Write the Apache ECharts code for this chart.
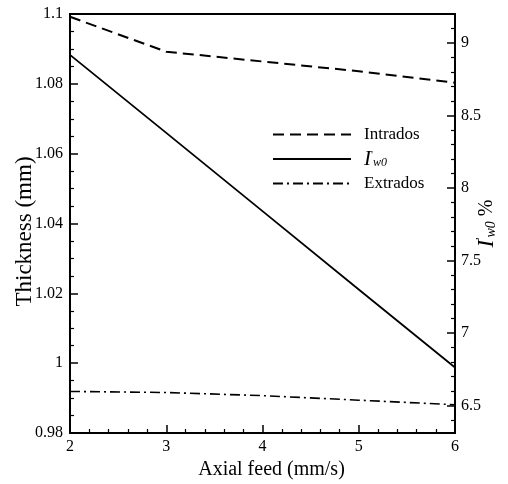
<!DOCTYPE html>
<html>
<head>
<meta charset="utf-8">
<script src="https://cdn.jsdelivr.net/npm/echarts@6/dist/echarts.min.js"></script>
<style>html,body{margin:0;padding:0;background:#fff}#c{width:508px;height:484px}</style>
</head>
<body>
<div id="c"></div>
<script>
var feed = [2, 3, 4, 5, 6];
var intrados = [1.0992, 1.0892, 1.0864, 1.0836, 1.0803];
var iw0 = [8.918, 8.38, 7.84, 7.30, 6.762];
var extrados = [0.9919, 0.9916, 0.9907, 0.9894, 0.9881];
var rightMajorTicks = [6.5, 7, 7.5, 8, 8.5, 9];
var rightMinorTicks = [6.4, 6.6, 6.7, 6.8, 6.9, 7.1, 7.2, 7.3, 7.4, 7.6, 7.7, 7.8, 7.9, 8.1, 8.2, 8.3, 8.4, 8.6, 8.7, 8.8, 8.9, 9.1];
var seriesNames = ['Intrados', 'Iw0', 'Extrados'];

function pairs(xs, ys) { return xs.map(function (x, i) { return [x, ys[i]]; }); }

var FF = '"Liberation Serif", "Times New Roman", serif';
var black = '#000';
var legRich = {
  i: { fontFamily: FF, fontStyle: 'italic', fontSize: 21, lineHeight: 19, color: black },
  p: { fontFamily: FF, fontSize: 11, lineHeight: 19, color: black, verticalAlign: 'top' },
  s: { fontFamily: FF, fontStyle: 'italic', fontSize: 12, lineHeight: 19, color: black, verticalAlign: 'bottom' }
};
var nameRich = {
  i: { fontFamily: FF, fontStyle: 'italic', fontSize: 23, color: black },
  p: { fontFamily: FF, fontSize: 12, color: black, verticalAlign: 'top' },
  s: { fontFamily: FF, fontStyle: 'italic', fontSize: 14, color: black, verticalAlign: 'bottom' },
  t: { fontFamily: FF, fontSize: 20, color: black }
};

var chart = echarts.init(document.getElementById('c'), null, { renderer: 'canvas' });
chart.setOption({
  animation: false,
  backgroundColor: '#fff',
  grid: { left: 70, top: 14, right: 53, bottom: 51, show: true, borderColor: black, borderWidth: 2, backgroundColor: 'transparent', outerBoundsMode: 'none', containLabel: false },
  legend: {
    orient: 'vertical', left: 272, top: 125, padding: 0,
    itemWidth: 78, itemHeight: 24, itemGap: 4.3,
    data: seriesNames,
    itemStyle: { color: 'rgba(0,0,0,0)', borderWidth: 0, opacity: 0 },
    textStyle: { fontFamily: FF, fontSize: 17, lineHeight: 19, color: black, padding: [0, 0, 0, 8], rich: legRich },
    formatter: function (n) { return n === 'Iw0' ? '{i|I}{p|\'}{s|w0}' : n; }
  },
  xAxis: {
    type: 'value', min: 2, max: 6, interval: 1,
    name: 'Axial feed (mm/s)', nameLocation: 'middle', nameGap: 27, nameMoveOverlap: false,
    nameTextStyle: { fontFamily: FF, fontSize: 20, color: black, padding: [0, 0, 0, 18] },
    axisLine: { show: true, lineStyle: { color: black, width: 2 } },
    axisTick: { show: true, inside: true, length: 8, lineStyle: { color: black, width: 1.5 } },
    minorTick: { show: true, splitNumber: 5, length: 4, lineStyle: { color: black, width: 1.2 } },
    axisLabel: { fontFamily: FF, fontSize: 16, color: black, margin: 6 },
    splitLine: { show: false }
  },
  yAxis: [
    {
      type: 'value', min: 0.98, max: 1.1, interval: 0.02, position: 'left',
      name: 'Thickness (mm)', nameLocation: 'middle', nameGap: 34, nameRotate: 90, nameMoveOverlap: false,
      nameTextStyle: { fontFamily: FF, fontSize: 23, color: black, padding: [0, 16, 0, 0] },
      axisLine: { show: true, lineStyle: { color: black, width: 2 } },
      axisTick: { show: true, inside: true, length: 8, lineStyle: { color: black, width: 1.5 } },
      minorTick: { show: true, splitNumber: 4, length: 4, lineStyle: { color: black, width: 1.2 } },
      axisLabel: { fontFamily: FF, fontSize: 16, color: black, margin: 7 },
      splitLine: { show: false }
    },
    {
      type: 'value', min: 6.31, max: 9.2, position: 'right',
      name: '{i|I}{p|\'}{s|w0}{t| %}', nameLocation: 'middle', nameGap: 20, nameRotate: 90, nameMoveOverlap: false,
      nameTextStyle: { rich: nameRich, fontFamily: FF, fontSize: 20, color: black },
      axisLine: { show: true, lineStyle: { color: black, width: 2 } },
      axisTick: { show: true, inside: true, length: 8, customValues: rightMajorTicks, lineStyle: { color: black, width: 1.5 } },
      axisLabel: { fontFamily: FF, fontSize: 16, color: black, margin: 6, customValues: rightMajorTicks },
      splitLine: { show: false }
    },
    {
      type: 'value', min: 6.31, max: 9.2, position: 'right',
      axisLine: { show: false },
      axisTick: { show: true, inside: true, length: 4, customValues: rightMinorTicks, lineStyle: { color: black, width: 1.2 } },
      axisLabel: { show: false, customValues: rightMinorTicks },
      splitLine: { show: false }
    }
  ],
  series: [
    {
      name: 'Intrados', type: 'line', yAxisIndex: 0, symbol: 'none', data: pairs(feed, intrados),
      lineStyle: { color: black, width: 2, type: [11, 6] }, itemStyle: { color: black }
    },
    {
      name: 'Iw0', type: 'line', yAxisIndex: 1, symbol: 'none', data: pairs(feed, iw0),
      lineStyle: { color: black, width: 1.8, type: 'solid' }, itemStyle: { color: black }
    },
    {
      name: 'Extrados', type: 'line', yAxisIndex: 0, symbol: 'none', data: pairs(feed, extrados),
      lineStyle: { color: black, width: 1.6, type: [10, 4, 2, 4] }, itemStyle: { color: black }
    }
  ]
});
</script>
</body>
</html>
